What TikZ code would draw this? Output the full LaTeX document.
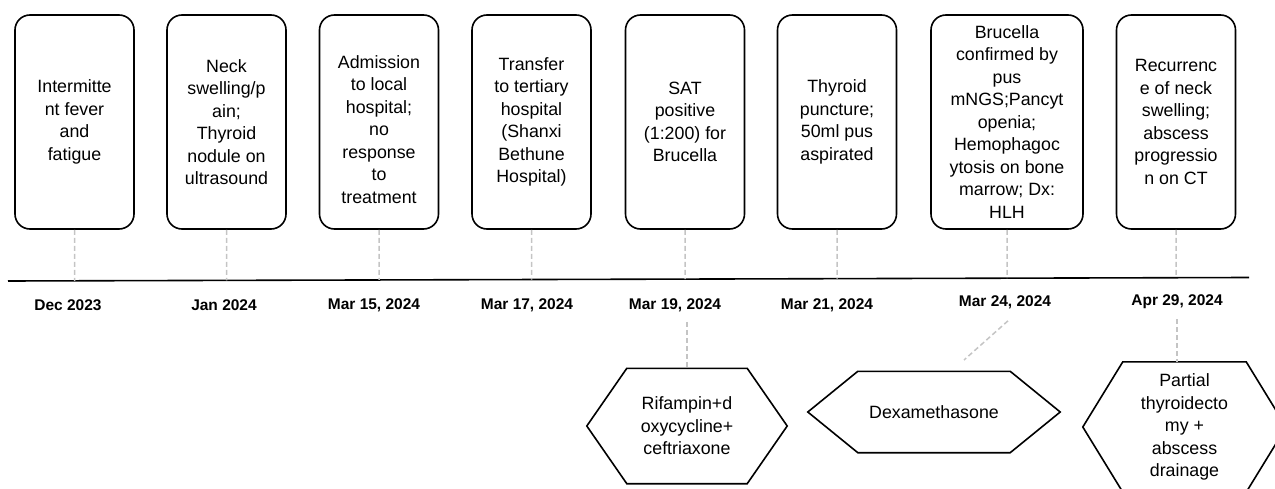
\documentclass[tikz,border=0pt]{standalone}
\usepackage{fontspec}
\setmainfont{Liberation Sans}
\usetikzlibrary{positioning,calc}
\definecolor{guidegrey}{HTML}{C4C4C4}
\tikzset{
  event/.style={draw, line width=1.6pt, rounded corners=15pt, minimum width=119pt, minimum height=214pt,
    inner sep=2pt, align=center, font=\fontsize{17.8}{22.5}\selectfont},
  datelbl/.style={font=\bfseries\fontsize{15.5}{18}\selectfont, inner sep=1pt},
  therapy/.style={inner sep=0pt, align=center, font=\fontsize{17.8}{22.5}\selectfont},
  guide/.style={draw=guidegrey, line width=1.5pt, dash pattern=on 5pt off 3pt},
}

\begin{document}
\begin{tikzpicture}[x=1pt, y=-1pt]
  \useasboundingbox (0,0) rectangle (1275,489);

  % events above the line
  \node[event] (e1) at (74.5,122) {Intermitte\\nt fever\\and\\fatigue};
  \node[event] (e2) at (226.5,122) {Neck\\swelling/p\\ain;\\Thyroid\\nodule on\\ultrasound};
  \node[event] (e3) at (379,122) {\mbox{}\\[5pt]Admission\\to local\\hospital;\\no\\response\\to\\treatment};
  \node[event] (e4) at (531.5,122) {Transfer\\to tertiary\\hospital\\(Shanxi\\Bethune\\Hospital)};
  \node[event] (e5) at (685,122) {SAT\\positive\\(1:200) for\\Brucella};
  \node[event] (e6) at (837,122) {Thyroid\\puncture;\\50ml pus\\aspirated};
  \node[event, minimum width=152pt] (e7) at (1007,122) {Brucella\\confirmed by\\pus\\mNGS;Pancyt\\openia;\\Hemophagoc\\ytosis on bone\\marrow; Dx:\\HLH};
  \node[event] (e8) at (1176,122) {Recurrenc\\e of neck\\swelling;\\abscess\\progressio\\n on CT};

  % timeline
  \coordinate (tl0) at (8,281);
  \coordinate (tl1) at (1249,277.5);
  \draw[line width=1.6pt] (tl0) -- (tl1);
  \foreach \i in {1,...,8}
    \draw[guide] (e\i.south) -- ($(tl0)!(e\i.south)!(tl1)$);

  % dates
  \node[datelbl] (d1) at (68,305) {Dec 2023};
  \node[datelbl] (d2) at (224,305) {Jan 2024};
  \node[datelbl] (d3) at (374,305) {Mar 15, 2024};
  \node[datelbl] (d4) at (527,305) {Mar 17, 2024};
  \node[datelbl] (d5) at (675,305) {Mar 19, 2024};
  \node[datelbl] (d6) at (827,305) {Mar 21, 2024};
  \node[datelbl] (d7) at (1005,302) {Mar 24, 2024};
  \node[datelbl] (d8) at (1177,302) {Apr 29, 2024};

  % treatments below
  \node[therapy, minimum width=120pt, minimum height=115pt] (rif) at (687,426) {Rifampin+d\\oxycycline+\\ceftriaxone};
  \node[therapy, minimum width=152pt, minimum height=81pt] (dex) at (934,412) {Dexamethasone};
  \node[therapy, minimum width=123pt, minimum height=130pt] (ope) at (1184.5,427) {Partial\\thyroidecto\\my +\\abscess\\drainage};
  \foreach \n/\s in {rif/40, dex/50, ope/40}
    \draw[line width=1.6pt, line join=miter] (\n.north west) -- (\n.north east) -- ([xshift=\s pt]\n.east)
      -- (\n.south east) -- (\n.south west) -- ([xshift=-\s pt]\n.west) -- cycle;

  \coordinate (dexend) at (964,360);
  \draw[guide] ([yshift=-9pt]rif.north |- d5.south) -- (rif.north);
  \draw[guide] ([xshift=3pt, yshift=-11pt]d7.south) -- (dexend);
  \draw[guide] ([yshift=-9pt]d8.south) -- (d8.south |- ope.north);
\end{tikzpicture}
\end{document}
